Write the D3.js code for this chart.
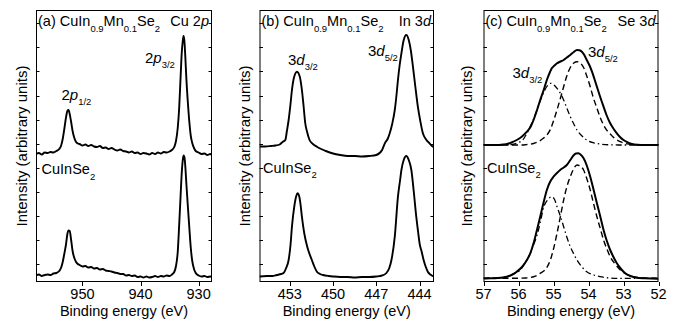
<!DOCTYPE html>
<html><head><meta charset="utf-8">
<script src="https://cdn.jsdelivr.net/npm/d3@7"></script>
<style>
body{margin:0;background:#fff}
svg{display:block}
text{font-family:"Liberation Sans",Arial,Helvetica,sans-serif;fill:#000}
</style>
</head><body>
<svg id="chart" width="675" height="321"></svg>
<script>
// ---------- DATA (binding energy in eV, intensity in arbitrary units) ----------
// Panel (a) Cu 2p
const aEnergy = [958,957.5,957,956.5,956,955.5,955,954.5,954,953.7,953.4,953.1,952.85,952.6,952.4,952.2,951.95,951.7,951.4,951.1,950.8,950.5,950,949.5,949,948.5,948,947.5,947,946.5,946,945.5,945,944.5,944,943.5,943,942.5,942,941.5,941,940.5,940,939.5,939,938.5,938,937.5,937,936.5,936,935.5,935,934.6,934.2,933.9,933.6,933.35,933.1,932.9,932.75,932.6,932.45,932.3,932.1,931.85,931.6,931.35,931.1,930.8,930.5,930,929.5,929,928.5,928,927.7];
const aMn = [128,129,127.5,129.5,129,130,129.5,131,133,136,143,154,164,171,172,168,160,151,144,140,138.5,138,136.5,137.5,136,137,135.5,135,136,134,134.5,133,134,132.5,131.5,132.5,131,130.5,129.5,130.5,129,129.5,128,129,128.5,127.5,129,128,129.5,128.5,130,129.5,130.5,132,135,141,154,174,206,230,240,246,241,226,202,179,160,146,139,134,131,129.5,128,128.5,127,128,127];
const aRef = [6.5,7.5,6,7,7.5,7,8.5,9,11,14,20,29,37,48,51.5,51,42,31,24,20,18,17,15.5,16,14.5,15,13.5,14,12.5,13,11.5,11,10.5,9.5,9,8,8,6.5,7,6,6.5,5,5.5,4.5,5.5,4.5,5,6,5,6,5.5,6.5,6,7.5,10,16,30,57,87,110,121,126.5,125,116,97,75,54,34,21,13,9,6.5,5.5,6,5,5.5,5];

// Panel (b) In 3d
const bEnergyMn = [455.1,454.7,454.3,454,453.7,453.5,453.31,453.2,453.08,452.95,452.85,452.7,452.5,452.3,452.16,452.05,451.93,451.78,451.63,451.4,451.12,450.9,450.5,450,449.5,449,448.5,448,447.5,447,446.6,446.41,446.2,446.07,445.9,445.72,445.6,445.5,445.38,445.26,445.1,444.92,444.75,444.6,444.46,444.3,444.12,443.95,443.77,443.55,443.31,443.08,443.0];
const bMn = [135.5,135.5,136,136.5,137.5,140,142,151,162,178,192,205,210.3,205,192,177,159,149,142,138,135.3,133.5,131,128.5,127,126,126,125.5,126,127,132,138.7,143.5,148.7,158,172,187,202,217,228.7,242,247,242,231,215.3,196,175.3,161,148.7,142.5,138.7,135.3,135];
const bEnergyRef = [455.1,454.6,454.2,453.9,453.6,453.43,453.25,453.08,452.95,452.85,452.69,452.55,452.46,452.35,452.25,452.16,452.0,451.79,451.63,451.47,451.3,451.12,450.9,450.69,450.3,450,449.5,449,448.5,448,447.5,447,446.6,446.3,446.1,445.95,445.72,445.5,445.35,445.26,445.1,444.92,444.75,444.57,444.4,444.23,444.1,444.0,443.85,443.72,443.58,443.43,443.25,443.08,443.0];
const bRef = [5.5,6,6,7,8,9,14,22,37,55.3,75.3,86,88.7,86,77,65.3,49,35.3,28,22,15.5,10.3,8,7,6,5.5,5,5,4.5,5,5,5.5,6.5,9,14,22,45.3,85.3,102,112,122,126,122,112,90,65.3,50,38.7,30,22,15.5,10.3,7.5,6,6];

// Panel (c) Se 3d : measured envelope, 3d5/2 (dashed) and 3d3/2 (dash-dot) components
const cEnergyMnSum = [57,56.8,56.6,56.45,56.33,56.2,56.05,55.9,55.76,55.65,55.57,55.48,55.38,55.28,55.19,55.1,55.05,54.97,54.9,54.8,54.71,54.62,54.52,54.42,54.33,54.26,54.19,54.12,54.05,53.97,53.9,53.83,53.76,53.67,53.57,53.48,53.38,53.28,53.19,53.1,53.0,52.88,52.76,52.6,52.4,52.2,52];
const cMnSum = [137,137,137,137.5,138,139.5,142,145.5,150.3,155.5,162,171,182,192,202,210,213.7,216.5,218.7,220.5,222,224.5,227,230,232,231.7,230.3,227,222,216.5,210.3,203,195.3,185.5,175.3,166.5,158.7,153,148.7,145,142,139.7,138,137.2,137,137,137];
const cEnergyMn52 = [57,56.4,56,55.8,55.57,55.4,55.29,55.19,55.09,55.0,54.9,54.8,54.71,54.62,54.52,54.42,54.33,54.24,54.14,54.05,53.95,53.86,53.76,53.66,53.57,53.45,53.38,53.25,53.09,52.95,52.81,52.6,52.2,52];
const cMn52 = [137,137,137,137.3,138.5,141,143.7,147,152.5,161,172,184,195.3,206,214.5,219,220.3,219,214.5,206,195.3,184,174,164,157,150.5,148,143.5,140.3,138.5,137.7,137,137,137];
const cEnergyMn32 = [57,56.5,56.2,56.0,55.88,55.76,55.62,55.47,55.38,55.29,55.19,55.09,55.0,54.9,54.8,54.71,54.62,54.52,54.42,54.33,54.2,54.05,53.85,53.67,53.4,53.09,52.5,52];
const cMn32 = [137,137,137.5,139.5,142,148.7,159,172,181,188.7,195.5,198.7,197.5,193.7,188.5,182,174,165.3,158,152,146.5,142,139.2,138,137.2,137,137,137];

const cEnergyRefSum = [57,56.81,56.6,56.45,56.33,56.2,56.05,55.9,55.76,55.66,55.57,55.48,55.38,55.28,55.19,55.1,55.0,54.9,54.81,54.71,54.62,54.52,54.43,54.36,54.29,54.22,54.14,54.05,53.95,53.86,53.76,53.66,53.57,53.48,53.38,53.28,53.19,53.07,52.95,52.8,52.62,52.4,52.05,52];
const cRefSum = [3.5,3.7,4,4.5,5.3,7,10.3,15,22,29,38.7,51,65.3,80,92,100,105.3,109,112,114.5,117,122,126.5,128.5,128.7,127.2,123.7,116.5,105.3,93,78.7,65,52,41.5,32,24.5,18.7,13,8.7,6,4.3,3.7,3.3,3.3];
const cEnergyRef52 = [57,56.2,55.8,55.55,55.38,55.2,55.09,55.0,54.9,54.8,54.71,54.62,54.52,54.42,54.33,54.24,54.14,54.05,53.95,53.86,53.76,53.66,53.57,53.48,53.38,53.25,53.09,52.9,52.71,52.4,52];
const cRef52 = [3.7,3.7,4,5.5,8.7,14,22,33,48.7,66,82,95,105.3,113.5,117,116,112,103.5,92,79,65.3,53,42,33.5,25.3,18.5,12,7.5,5.3,4,3.7];
const cEnergyRef32 = [57,56.6,56.33,56.15,55.95,55.8,55.67,55.57,55.47,55.38,55.29,55.17,55.05,54.97,54.9,54.8,54.71,54.62,54.52,54.42,54.33,54.2,54.05,53.85,53.67,53.4,53.19,52];
const cRef32 = [3.7,4,5.3,8,12,20,28,37,47,59,73.7,82,85.3,82.5,75.3,65.5,55.3,45,35.3,28,22,15.5,10.3,7,5.3,4,3.7,3.7];

// Axis ticks
const aTicks = [950,940,930];
const bTicks = [453,450,447,444];
const cTicks = [57,56,55,54,53,52];
const yTickValues = [17.7,41.8,65.9,90,114.1,138.2,162.3,186.4,210.5,234.6,258.7];

// ---------- DRAWING ----------
const svg = d3.select('#chart');
const TOP = 10, BOT = 282;
const y = d3.scaleLinear().domain([0,272]).range([BOT, TOP]);

function rich(g, x, yy, parts, anchor, size, subSize, subDy){
  const t = g.append('text').attr('x', x).attr('y', yy)
    .attr('text-anchor', anchor || 'start').style('font-size', size + 'px');
  let shift = 0;
  parts.forEach(([s, k]) => {
    const sub = k.includes('s');
    const want = sub ? subDy : 0;
    t.append('tspan').attr('dy', want - shift)
      .style('font-size', (sub ? subSize : size) + 'px')
      .style('font-style', k.includes('i') ? 'italic' : 'normal')
      .text(s);
    shift = want;
  });
  return t;
}

const panels = [
  { dom:[958,927.7], rng:[36,212], ticks:aTicks, yl:26.5,
    curves:[{e:aEnergy,v:aMn,dash:null,w:1.9},{e:aEnergy,v:aRef,dash:null,w:1.9}],
    letter:'(a)', elem:[['Cu 2','n'],['p','i']],
    labels:[
      {x:61.5,y:99.5,parts:[['2','n'],['p','i'],['1/2','s']]},
      {x:145,y:63,parts:[['2','n'],['p','i'],['3/2','s']]}
    ], ref:{x:41.5,y:174}},
  { dom:[455.1,443.0], rng:[259.5,434], ticks:bTicks, yl:249.8,
    curves:[{e:bEnergyMn,v:bMn,dash:null,w:1.9},{e:bEnergyRef,v:bRef,dash:null,w:1.9}],
    letter:'(b)', elem:[['In 3','n'],['d','i']],
    labels:[
      {x:288,y:65,parts:[['3','n'],['d','i'],['3/2','s']]},
      {x:368,y:56,parts:[['3','n'],['d','i'],['5/2','s']]}
    ], ref:{x:263,y:172.5}},
  { dom:[57,52], rng:[483.5,658.5], ticks:cTicks, yl:472,
    curves:[
      {e:cEnergyMn52,v:cMn52,dash:'6,3.5',w:1.4},
      {e:cEnergyMn32,v:cMn32,dash:'6,3,1.5,3',w:1.3},
      {e:cEnergyMnSum,v:cMnSum,dash:null,w:2},
      {e:cEnergyRef52,v:cRef52,dash:'6,3.5',w:1.4},
      {e:cEnergyRef32,v:cRef32,dash:'6,3,1.5,3',w:1.3},
      {e:cEnergyRefSum,v:cRefSum,dash:null,w:2}
    ],
    letter:'(c)', elem:[['Se 3','n'],['d','i']],
    labels:[
      {x:512.5,y:77.5,parts:[['3','n'],['d','i'],['3/2','s']]},
      {x:588,y:56.5,parts:[['3','n'],['d','i'],['5/2','s']]}
    ], ref:{x:487,y:172.5}}
];

panels.forEach(p => {
  const x = d3.scaleLinear().domain(p.dom).range(p.rng);
  const g = svg.append('g');
  const [x0, x1] = p.rng;

  const id = 'clip' + p.letter.replace(/\W/g,'');
  svg.append('clipPath').attr('id', id).append('rect')
    .attr('x', x0).attr('y', TOP).attr('width', x1 - x0).attr('height', BOT - TOP);

  const line = d3.line().x(d => x(d[0])).y(d => y(d[1])).curve(d3.curveMonotoneX);
  const cg = g.append('g').attr('clip-path', `url(#${id})`);
  p.curves.forEach(c => {
    const pts = c.e.map((e, i) => [e, c.v[i]]);
    cg.append('path').attr('d', line(pts)).attr('fill', 'none')
      .attr('stroke', '#000').attr('stroke-width', c.w)
      .attr('stroke-linejoin', 'round')
      .attr('stroke-dasharray', c.dash);
  });

  g.append('rect').attr('x', x0 + 0.5).attr('y', TOP + 0.5)
    .attr('width', x1 - x0 - 1).attr('height', BOT - TOP - 1)
    .attr('fill', 'none').attr('stroke', '#000').attr('stroke-width', 1);

  p.ticks.forEach(t => {
    const xx = Math.round(x(t)) + 0.5;
    g.append('line').attr('x1', xx).attr('x2', xx).attr('y1', BOT).attr('y2', BOT + 4)
      .attr('stroke', '#000').attr('stroke-width', 1);
    g.append('text').attr('x', x(t)).attr('y', 298.5).attr('text-anchor', 'middle')
      .style('font-size', '14.5px').text(t);
  });

  yTickValues.forEach(v => {
    const yy = Math.round(y(v)) + 0.5;
    g.append('line').attr('x1', x0).attr('x2', x0 + 3.5).attr('y1', yy).attr('y2', yy)
      .attr('stroke', '#000').attr('stroke-width', 1);
    g.append('line').attr('x1', x1 - 3.5).attr('x2', x1).attr('y1', yy).attr('y2', yy)
      .attr('stroke', '#000').attr('stroke-width', 1);
  });

  g.append('text').attr('x', (x0 + x1) / 2).attr('y', 316).attr('text-anchor', 'middle')
    .style('font-size', '14.5px').text('Binding energy (eV)');
  g.append('text').attr('transform', `translate(${p.yl},${(TOP + BOT) / 2}) rotate(-90)`)
    .attr('text-anchor', 'middle').style('font-size', '15px').text('Intensity (arbitrary units)');

  rich(g, x0 + 2, 26, [[p.letter + ' CuIn','n'],['0.9','s'],['Mn','n'],['0.1','s'],['Se','n'],['2','s']],
    'start', 14.5, 9.5, 5.5);
  rich(g, x1 - 3, 26, p.elem, 'end', 14.5, 9.5, 5.5);

  p.labels.forEach(l => rich(g, l.x, l.y, l.parts, 'start', 15, 9.5, 5));
  rich(g, p.ref.x, p.ref.y, [['CuInSe','n'],['2','s']], 'start', 14.5, 9.5, 5.5);
});
</script>
</body></html>
